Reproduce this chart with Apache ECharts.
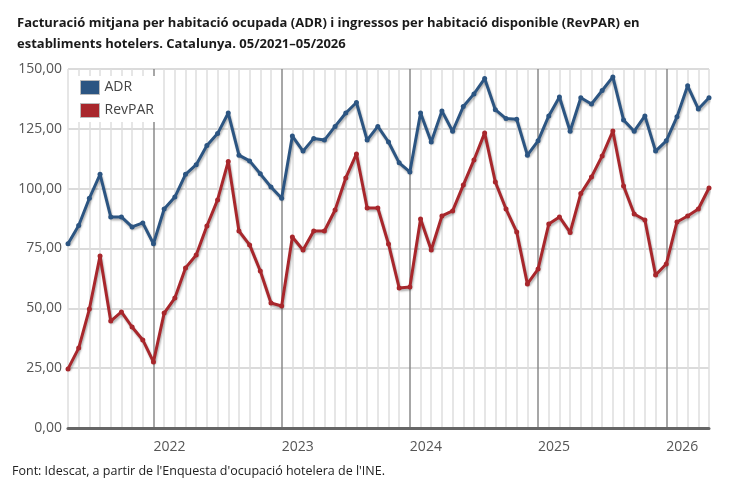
<!DOCTYPE html>
<html>
<head>
<meta charset="utf-8">
<script src="https://cdn.jsdelivr.net/npm/echarts@6/dist/echarts.min.js"></script>
<style>
  html, body { margin: 0; padding: 0; background: #fff; }
  #chart { width: 750px; height: 498px; }
</style>
</head>
<body>
<div id="chart"></div>
<script>
// mesos 05/2021 - 05/2026
const months = []
for (let y = 2021; y <= 2026; y++) {
  for (let m = 1; m <= 12; m++) {
    if ((y === 2021 && m < 5) || (y === 2026 && m > 5)) continue
    months.push(y + '-' + (m < 10 ? '0' + m : m))
  }
}

const adr = [
  77.0, 84.6, 96.0, 106.0, 88.2, 88.2, 84.0, 85.7, 77.0, 91.5, 96.5, 106.0,
  110.0, 118.0, 123.0, 131.6, 114.0, 111.6, 106.2, 100.7, 96.0, 122.0, 115.7, 121.0,
  120.3, 126.0, 131.6, 136.0, 120.3, 126.0, 119.5, 110.8, 107.0, 131.6, 119.5, 132.5,
  124.0, 134.3, 139.6, 146.0, 133.0, 129.3, 129.0, 114.0, 120.0, 130.4, 138.3, 124.0,
  138.0, 135.4, 141.0, 146.7, 128.7, 124.0, 130.4, 115.7, 120.0, 130.0, 143.0, 133.3,
  138.0
]

const revpar = [
  24.7, 33.4, 49.7, 71.9, 44.7, 48.5, 42.2, 36.8, 27.6, 48.0, 54.3, 66.9,
  72.3, 84.4, 95.3, 111.4, 82.3, 76.5, 65.6, 52.2, 51.0, 79.8, 74.4, 82.3,
  82.3, 91.1, 104.5, 114.5, 91.9, 91.9, 76.9, 58.5, 58.9, 87.3, 74.4, 88.6,
  90.7, 101.5, 112.0, 123.3, 102.8, 91.5, 81.9, 60.2, 66.4, 85.2, 88.2, 81.7,
  98.0, 104.9, 113.7, 124.1, 101.1, 89.4, 86.9, 63.9, 68.5, 86.1, 88.6, 91.5,
  100.3
]

const seriesNames = ['ADR', 'RevPAR']
const seriesColors = ['#2c5582', '#a8272c']

const font = "'Open Sans', sans-serif"

// linies verticals: gener més fosc
const vLineColors = months.map(m => (m.slice(5) === '01' ? '#8a8a8a' : '#dedede'))

const chart = echarts.init(document.getElementById('chart'))

const lineSeries = [adr, revpar].map((data, i) => {
  return {
    name: seriesNames[i],
    type: 'line',
    data: data,
    symbol: 'circle',
    symbolSize: 5,
    color: seriesColors[i],
    lineStyle: {
      width: 3,
      shadowColor: 'rgba(0,0,0,0.3)',
      shadowBlur: 2,
      shadowOffsetX: 1,
      shadowOffsetY: 2
    },
    itemStyle: { color: seriesColors[i] },
    animation: false
  }
})

chart.setOption({
  animation: false,
  textStyle: { fontFamily: font },
  title: {
    text: 'Facturació mitjana per habitació ocupada (ADR) i ingressos per habitació disponible (RevPAR) en\nestabliments hotelers. Catalunya. 05/2021–05/2026',
    left: 12,
    top: 8,
    textStyle: {
      fontFamily: font,
      fontSize: 13,
      fontWeight: 'bold',
      color: '#1a1a1a',
      lineHeight: 21
    }
  },
  graphic: [
    {
      type: 'text',
      left: 12,
      top: 465,
      style: {
        text: "Font: Idescat, a partir de l'Enquesta d'ocupació hotelera de l'INE.",
        font: "12.5px " + font,
        fill: '#222'
      }
    }
  ],
  legend: {
    left: 76,
    top: 76,
    orient: 'vertical',
    itemWidth: 19,
    itemHeight: 14,
    itemGap: 8,
    padding: [4, 8, 4, 4],
    backgroundColor: '#fff',
    icon: 'rect',
    itemStyle: { borderColor: '#bbb', borderWidth: 1 },
    textStyle: { fontFamily: font, fontSize: 14, color: '#444' },
    data: seriesNames
  },
  grid: { left: 68, right: 41, top: 69, bottom: 70 },
  xAxis: {
    type: 'category',
    data: months,
    boundaryGap: false,
    axisLine: { show: true, lineStyle: { color: '#666', width: 3 } },
    axisTick: { show: false },
    axisLabel: {
      interval: 0,
      align: 'left',
      margin: 12,
      fontSize: 14,
      color: '#555',
      formatter: v => (v.slice(5) === '01' ? v.slice(0, 4) : '')
    },
    splitLine: {
      show: true,
      interval: 0,
      lineStyle: { color: vLineColors, width: 1.5 }
    }
  },
  yAxis: {
    type: 'value',
    min: 0,
    max: 150,
    interval: 25,
    axisLine: { show: false },
    axisTick: { show: false },
    axisLabel: {
      fontSize: 14,
      color: '#555',
      margin: 6,
      formatter: v => v.toFixed(2).replace('.', ',')
    },
    splitLine: { lineStyle: { color: '#cfcfcf', width: 1.5 } }
  },
  series: lineSeries
})
</script>
</body>
</html>
